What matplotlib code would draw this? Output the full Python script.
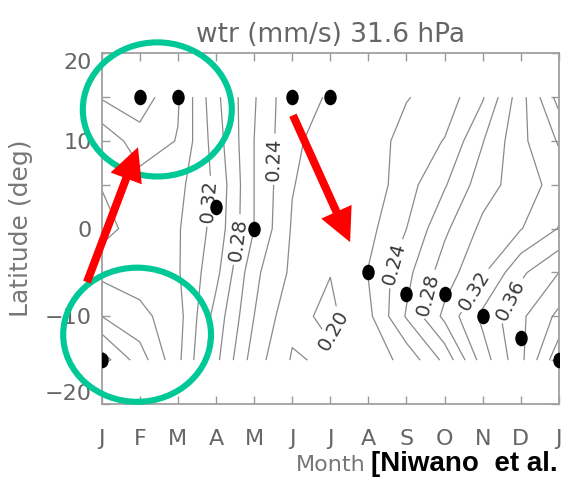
import numpy as np
import matplotlib
matplotlib.use('Agg')
import matplotlib.pyplot as plt
from matplotlib.patches import Ellipse
from matplotlib.path import Path

# ---------------- data ----------------
months = ['J', 'F', 'M', 'A', 'M', 'J', 'J', 'A', 'S', 'O', 'N', 'D', 'J']
month_idx = list(range(13))
lats = [-15, -10, -5, 0, 5, 10, 15]

# wtr (mm/s) at 31.6 hPa, one row per latitude, one value per month
wtr_s15 = [0.430, 0.390, 0.345, 0.285, 0.230, 0.198, 0.203, 0.209, 0.226, 0.265, 0.330, 0.375, 0.435]
wtr_s10 = [0.380, 0.366, 0.348, 0.292, 0.240, 0.205, 0.196, 0.215, 0.262, 0.305, 0.345, 0.376, 0.405]
wtr_s05 = [0.355, 0.350, 0.342, 0.306, 0.245, 0.216, 0.2005, 0.221, 0.254, 0.290, 0.317, 0.356, 0.380]
wtr_eq = [0.332, 0.350, 0.342, 0.313, 0.260, 0.218, 0.206, 0.214, 0.240, 0.276, 0.305, 0.319, 0.341]
wtr_n05 = [0.341, 0.352, 0.346, 0.316, 0.260, 0.221, 0.208, 0.207, 0.232, 0.258, 0.291, 0.310, 0.328]
wtr_n10 = [0.345, 0.371, 0.359, 0.310, 0.260, 0.223, 0.213, 0.210, 0.227, 0.241, 0.279, 0.315, 0.342]
wtr_n15 = [0.382, 0.392, 0.362, 0.305, 0.262, 0.224, 0.219, 0.212, 0.219, 0.228, 0.258, 0.312, 0.368]

contour_levels = [0.20, 0.22, 0.24, 0.26, 0.28, 0.30, 0.32, 0.34, 0.36, 0.38, 0.40, 0.42, 0.44]

# black dots (month index, latitude)
dot_month = [0, 1, 2, 3, 4, 5, 6, 7, 8, 9, 10, 11, 12]
dot_lat = [-15, 15, 15, 2.5, 0, 15, 15, -5, -7.5, -7.5, -10, -12.5, -15]

# contour labels: (level, month, lat)
label_level = [0.24, 0.32, 0.28, 0.20, 0.24, 0.28, 0.32, 0.36]
label_month = [4.5, 3.0, 3.63, 6.15, 7.75, 8.9, 9.75, 10.64]
label_lat = [8.0, 3.0, -1.3, -11.8, -4.2, -7.8, -6.8, -7.9]

# ---------------- figure ----------------
fig = plt.figure(figsize=(5.68, 4.83), dpi=100)
ax = fig.add_axes([0.179, 0.1636, 0.805, 0.726])
ax.set_xlim(0, 12)
ax.set_ylim(-20, 20)

Z = np.array([wtr_s15, wtr_s10, wtr_s05, wtr_eq, wtr_n05, wtr_n10, wtr_n15])
X, Y = np.meshgrid(month_idx, lats)
cs = ax.contour(X, Y, Z, levels=contour_levels, colors='#8a8a8a', linewidths=0.9)


def point_on_level(level, x, y):
    """Closest point (densely sampled) on the contour of `level` to (x, y)."""
    i = int(np.argmin(np.abs(np.asarray(cs.levels) - level)))
    best, best_d = None, np.inf
    tgt = ax.transData.transform((x, y))
    for seg in cs.allsegs[i]:
        if len(seg) < 2:
            continue
        for a, b in zip(seg[:-1], seg[1:]):
            t = np.linspace(0, 1, 25)[:, None]
            pts = a + (b - a) * t
            d = np.hypot(*(ax.transData.transform(pts) - tgt).T)
            k = int(np.argmin(d))
            if d[k] < best_d:
                best_d, best = d[k], pts[k]
    return tuple(best)


for lv, mx, my in zip(label_level, label_month, label_lat):
    pos = point_on_level(lv, mx, my)
    ax.clabel(cs, manual=[pos], inline=True, inline_spacing=4,
              fmt='%.2f', fontsize=14, colors='#3a3a3a')

circ = Path.unit_circle()
ell_marker = Path(circ.vertices * np.array([0.8, 1.0]), circ.codes)
ax.scatter(dot_month, dot_lat, marker=ell_marker, s=11.2 ** 2, c='black',
           linewidths=0, zorder=5)

ax.set_xticks(month_idx)
ax.set_xticklabels(months)
ax.set_yticks([-20, -10, 0, 10, 20])
ax.set_yticklabels(['\u221220', '\u221210', '0', '10', '20'])
ax.set_yticks([-15, -5, 5, 15], minor=True)
ax.tick_params(axis='x', which='both', direction='in', top=True, length=6,
               width=1, color='#999999', pad=18, labelsize=16, labelcolor='#666666')
ax.tick_params(axis='y', which='both', direction='in', right=True, length=6,
               width=1, color='#999999', pad=7, labelsize=16, labelcolor='#666666')
ylabels = ax.get_yticklabels()
ylabels[0].set_va('bottom')
ylabels[-1].set_va('top')
for s in ax.spines.values():
    s.set_color('#a0a0a0')
    s.set_linewidth(1.3)

ax.set_title('wtr (mm/s) 31.6 hPa', fontsize=19, color='#666666', pad=8)
ax.set_ylabel('Latitude (deg)', fontsize=18, color='#777777')
ax.yaxis.set_label_coords(-0.15, 0.5)
ax.set_xlabel('Month', fontsize=16, color='#777777')
ax.xaxis.set_label_coords(0.5, -0.145)

# annotation overlays
green = '#00c896'
ax.add_patch(Ellipse((1.46, 13.6), 3.91, 15.3, fill=False, ec=green, lw=4.4,
                     clip_on=False, zorder=10))
ax.add_patch(Ellipse((0.93, -12.1), 3.88, 15.3, fill=False, ec=green, lw=4.4,
                     clip_on=False, zorder=10))
arrow_style = 'simple,head_length=2.4,head_width=2.4,tail_width=0.58'
ax.annotate('', xy=(0.953, 9.29), xytext=(-0.386, -6.1),
            arrowprops=dict(arrowstyle=arrow_style, mutation_scale=10, color='#ff0000',
                            lw=0, shrinkA=0, shrinkB=0),
            annotation_clip=False, zorder=11)
ax.annotate('', xy=(6.52, -1.54), xytext=(5.02, 12.93),
            arrowprops=dict(arrowstyle=arrow_style, mutation_scale=10, color='#ff0000',
                            lw=0, shrinkA=0, shrinkB=0),
            annotation_clip=False, zorder=11)

fig.text(371 / 568, 1 - 464 / 483, '[Niwano  et al.', fontsize=20,
         fontweight='bold', family=['Liberation Sans', 'DejaVu Sans'],
         color='black', ha='left', va='center')

fig.savefig('out.png', dpi=100)
